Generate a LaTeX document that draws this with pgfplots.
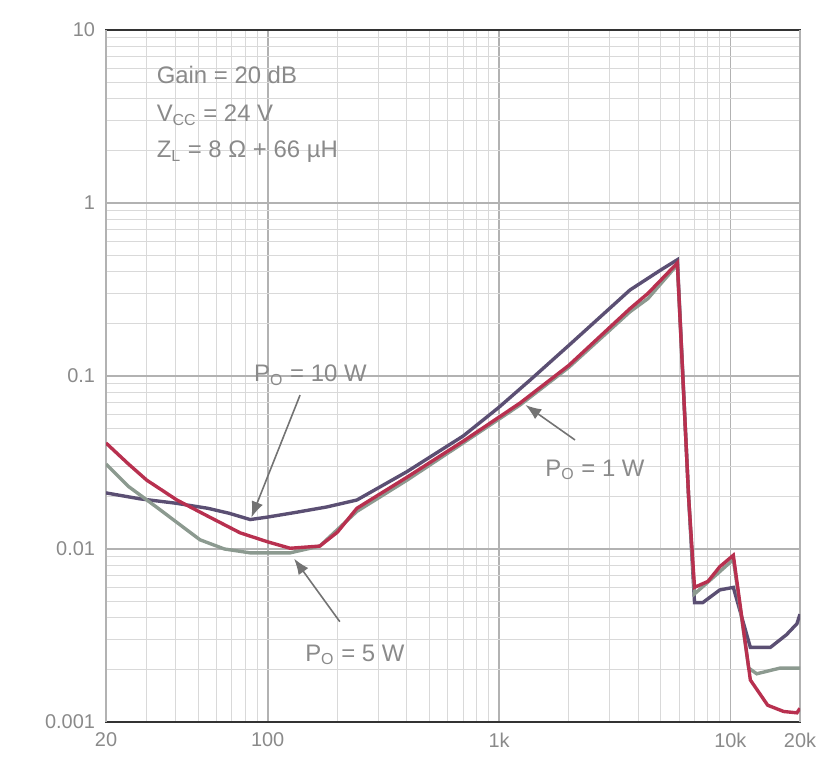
\documentclass[border=0pt]{standalone}
\usepackage{fontspec}
\setmainfont{Liberation Sans}
\usepackage{pgfplots}
\pgfplotsset{compat=1.18}
\usetikzlibrary{arrows.meta}
\definecolor{cTen}{HTML}{5B4F73}
\definecolor{cOne}{HTML}{B8304F}
\definecolor{cFive}{HTML}{8C9A90}
\definecolor{txt}{HTML}{8A8A8A}
\begin{document}
\begin{tikzpicture}
\path[use as bounding box] (-53bp,-22bp) rectangle (361.5bp,361bp);
\begin{axis}[
  at={(0,0)}, anchor=south west,
  scale only axis, width=347bp, height=346bp,
  xmode=log, ymode=log,
  xmin=20, xmax=20000, ymin=0.001, ymax=10,
  xtick={100,1000,10000}, xticklabels={100,1k,10k},
  extra x ticks={20,20000}, extra x tick labels={20,20k},
  ytick={0.001,0.01,0.1,1,10}, yticklabels={0.001,0.01,0.1,1,10},
  minor xtick={30,40,50,60,70,80,90,200,300,400,500,600,700,800,900,2000,3000,4000,5000,6000,7000,8000,9000},
  minor ytick={0.002,0.003,0.004,0.005,0.006,0.007,0.008,0.009,0.02,0.03,0.04,0.05,0.06,0.07,0.08,0.09,0.2,0.3,0.4,0.5,0.6,0.7,0.8,0.9,2,3,4,5,6,7,8,9},
  grid=both,
  major grid style={draw=black!30, line width=0.8pt},
  minor grid style={draw=black!15, line width=0.5pt},
  major tick length=0pt, minor tick length=0pt,
  axis line style={draw=black!80, line width=1.3pt},
  tick label style={text=txt, font=\fontsize{10}{12}\selectfont},
  /pgf/number format/assume math mode=true,
  xticklabel style={yshift=-2bp},
  yticklabel style={xshift=-2bp},
]
% Po = 10 W
\addplot[cTen, line width=1.7pt] coordinates {
(20,0.0211) (28,0.0195) (40,0.0184) (55,0.0172) (68,0.0161) (84,0.0148)
(100,0.0153) (133,0.0163) (180,0.0175) (243,0.0192) (400,0.028) (700,0.045)
(1000,0.066) (1362,0.0947) (2000,0.15) (3680,0.314) (5000,0.41) (5900,0.47)
(6600,0.02) (7000,0.0049) (7600,0.0049) (9000,0.0058) (10300,0.0060) (12200,0.0027)
(14900,0.0027) (17500,0.0032) (19400,0.0037) (20000,0.0042)
};
% Po = 5 W
\addplot[cFive, line width=1.7pt] coordinates {
(20,0.031) (25,0.023) (33,0.0175) (51,0.0113) (65,0.0100) (84,0.0095)
(125,0.0095) (168,0.0104) (243,0.0165) (400,0.025) (700,0.041) (1233,0.068)
(2000,0.112) (3680,0.235) (4400,0.28) (5900,0.44) (6600,0.02) (7000,0.0055)
(9000,0.0074) (10300,0.0087) (12000,0.00205) (13000,0.0019) (16400,0.00205)
(20000,0.00205)
};
% Po = 1 W
\addplot[cOne, line width=1.7pt] coordinates {
(20,0.041) (25,0.031) (30,0.025) (40.5,0.0192) (55,0.0155) (76,0.0124)
(100,0.0110) (125,0.0101) (168,0.0104) (200,0.0125) (243,0.0172) (400,0.026)
(700,0.042) (1233,0.0698) (2000,0.115) (3680,0.245) (4400,0.30) (5900,0.45)
(6600,0.02) (7000,0.0060) (8000,0.0065) (9000,0.0079) (10300,0.0092) (12200,0.00175)
(14500,0.00125) (17000,0.00115) (19400,0.00113) (20000,0.0012)
};
% annotations
\node[anchor=west, text=txt, font=\fontsize{12}{14}\selectfont] at (rel axis cs:0.063,0.935) {Gain = 20 dB};
\node[anchor=west, text=txt, font=\fontsize{12}{14}\selectfont] at (rel axis cs:0.063,0.877) {V\textsubscript{CC} = 24 V};
\node[anchor=west, text=txt, font=\fontsize{12}{14}\selectfont] at (rel axis cs:0.063,0.824) {Z\textsubscript{L} = 8 Ω + 66 µH};
\node[text=txt, font=\fontsize{12}{14}\selectfont] at (axis cs:153,0.101) {P\textsubscript{O} = 10 W};
\node[text=txt, font=\fontsize{12}{14}\selectfont] at (axis cs:238,0.00244) {P\textsubscript{O} = 5 W};
\node[text=txt, font=\fontsize{12}{14}\selectfont] at (axis cs:2600,0.0286) {P\textsubscript{O} = 1 W};
\draw[black!55, line width=0.8pt, -{Latex[length=8pt,width=6pt]}] (axis cs:138,0.0776) -- (axis cs:85,0.0152);
\draw[black!55, line width=0.8pt, -{Latex[length=8pt,width=6pt]}] (axis cs:205,0.0038) -- (axis cs:130,0.0088);
\draw[black!55, line width=0.8pt, -{Latex[length=8pt,width=6pt]}] (axis cs:2130,0.0427) -- (axis cs:1300,0.068);
\end{axis}
\end{tikzpicture}
\end{document}
